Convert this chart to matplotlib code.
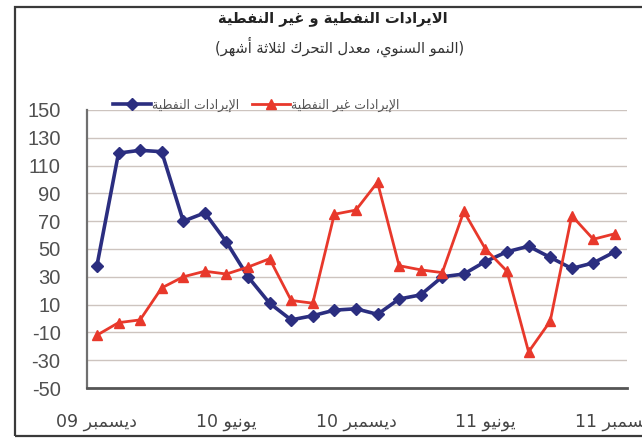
import matplotlib
matplotlib.use("Agg")
import matplotlib.pyplot as plt
from matplotlib.patches import Rectangle

# ---------------- data ----------------
title_text = "الايرادات النفطية و غير النفطية"
subtitle_text = "(النمو السنوي، معدل التحرك لثلاثة أشهر)"
series_names = ["الإيرادات النفطية", "الإيرادات غير النفطية"]
xtick_labels = ["ديسمبر 09", "يونيو 10", "ديسمبر 10", "يونيو 11", "ديسمبر 11"]
xtick_positions = [0, 6, 12, 18, 24]
oil = [38, 119, 121, 120, 70, 76, 55, 30, 11, -1, 2, 6, 7, 3, 14, 17,
       30, 32, 41, 48, 52, 44, 36, 40, 48]
non_oil = [-12, -3, -1, 22, 30, 34, 32, 37, 43, 13, 11, 75, 78, 98, 38, 35,
           33, 77, 50, 34, -24, -2, 74, 57, 61]
yticks = [-50, -30, -10, 10, 30, 50, 70, 90, 110, 130, 150]

# ------------- minimal Arabic shaping + bidi -------------
_SPEC = [(0x0622, 0xFE81, 2), (0x0623, 0xFE83, 2), (0x0624, 0xFE85, 2), (0x0625, 0xFE87, 2),
         (0x0626, 0xFE89, 4), (0x0627, 0xFE8D, 2), (0x0628, 0xFE8F, 4), (0x0629, 0xFE93, 2),
         (0x062A, 0xFE95, 4), (0x062B, 0xFE99, 4), (0x062C, 0xFE9D, 4), (0x062D, 0xFEA1, 4),
         (0x062E, 0xFEA5, 4), (0x062F, 0xFEA9, 2), (0x0630, 0xFEAB, 2), (0x0631, 0xFEAD, 2),
         (0x0632, 0xFEAF, 2), (0x0633, 0xFEB1, 4), (0x0634, 0xFEB5, 4), (0x0635, 0xFEB9, 4),
         (0x0636, 0xFEBD, 4), (0x0637, 0xFEC1, 4), (0x0638, 0xFEC5, 4), (0x0639, 0xFEC9, 4),
         (0x063A, 0xFECD, 4), (0x0641, 0xFED1, 4), (0x0642, 0xFED5, 4), (0x0643, 0xFED9, 4),
         (0x0644, 0xFEDD, 4), (0x0645, 0xFEE1, 4), (0x0646, 0xFEE5, 4), (0x0647, 0xFEE9, 4),
         (0x0648, 0xFEED, 2), (0x0649, 0xFEEF, 2), (0x064A, 0xFEF1, 4)]
_FORMS = {chr(c): (b, n) for c, b, n in _SPEC}
_LAMALEF = {'\u0622': 0xFEF5, '\u0623': 0xFEF7, '\u0625': 0xFEF9, '\u0627': 0xFEFB}


def ar(s):
    units = []
    i = 0
    while i < len(s):
        ch = s[i]
        if ch == '\u0644' and i + 1 < len(s) and s[i + 1] in _LAMALEF:
            units.append((_LAMALEF[s[i + 1]], 2))
            i += 2
            continue
        if ch in _FORMS:
            units.append(_FORMS[ch])
        else:
            units.append(ch)
        i += 1
    out = []
    for k, u in enumerate(units):
        if isinstance(u, str):
            out.append(u)
            continue
        base, n = u
        prev = units[k - 1] if k > 0 else None
        nxt = units[k + 1] if k + 1 < len(units) else None
        jp = prev is not None and not isinstance(prev, str) and prev[1] == 4
        jn = n == 4 and nxt is not None and not isinstance(nxt, str)
        idx = 3 if (jp and jn) else 1 if jp else 2 if jn else 0
        out.append(chr(base + idx))
    vis = ''.join(out)[::-1]
    # keep digit runs left-to-right, mirror brackets
    res, run = [], []
    for ch in vis:
        if ch.isdigit() or ch in '.':
            run.append(ch)
        else:
            if run:
                res.extend(run[::-1]); run = []
            res.append({'(': ')', ')': '('}.get(ch, ch))
    if run:
        res.extend(run[::-1])
    return ''.join(res)


# ---------------- figure ----------------
W, H = 642, 438
fig = plt.figure(figsize=(W / 100, H / 100), dpi=100)
fig.patch.set_facecolor('white')

# outer frame
fig.patches.append(Rectangle((15 / W, 2 / H), 1.2, (436 - 7) / H, transform=fig.transFigure,
                             fill=False, edgecolor='#3a3a3a', linewidth=1.6, clip_on=False))

ax = fig.add_axes([87 / W, 1 - 388 / H, (627 - 87) / W, (388 - 110) / H])
x = list(range(len(oil)))

ax.plot(x, oil, color='#2b2e80', linewidth=2.6, marker='D', markersize=6,
        label=ar(series_names[0]), zorder=3)
ax.plot(x, non_oil, color='#e8382b', linewidth=2.0, marker='^', markersize=7.5,
        label=ar(series_names[1]), zorder=4)

ax.set_xlim(-0.46, 24.56)
ax.set_ylim(-50, 150)
ax.set_yticks(yticks)
ax.set_yticklabels([str(v) for v in yticks], fontsize=14.5, color='#505050',
                   family='Liberation Sans')
ax.set_xticks(xtick_positions)
ax.set_xticklabels([ar(t) for t in xtick_labels], fontsize=12.5, color='#454545',
                   family='DejaVu Sans')
ax.tick_params(axis='y', length=0, pad=19)
ax.tick_params(axis='x', length=0, pad=18)

ax.yaxis.grid(True, color='#cdc4bf', linewidth=1.0)
ax.set_axisbelow(True)
for s in ['top', 'right']:
    ax.spines[s].set_visible(False)
ax.spines['left'].set_color('#707070')
ax.spines['left'].set_linewidth(1.6)
ax.spines['bottom'].set_color('#555555')
ax.spines['bottom'].set_linewidth(2.0)

leg = ax.legend(loc='center left', bbox_to_anchor=(113 / W, 1 - 105 / H),
                bbox_transform=fig.transFigure, ncol=2, frameon=False,
                fontsize=9, handlelength=3.0, columnspacing=1.0, handletextpad=0.15,
                borderpad=0, borderaxespad=0)
for t in leg.get_texts():
    t.set_color('#555555')

fig.text(333 / W, 1 - 18 / H, ar(title_text), ha='center', va='center',
         fontsize=10.5, fontweight='bold', color='#222222', family='DejaVu Sans')
fig.text(340 / W, 1 - 47 / H, ar(subtitle_text), ha='center', va='center',
         fontsize=10.5, color='#333333', family='DejaVu Sans')

fig.savefig('out.png', dpi=100)
